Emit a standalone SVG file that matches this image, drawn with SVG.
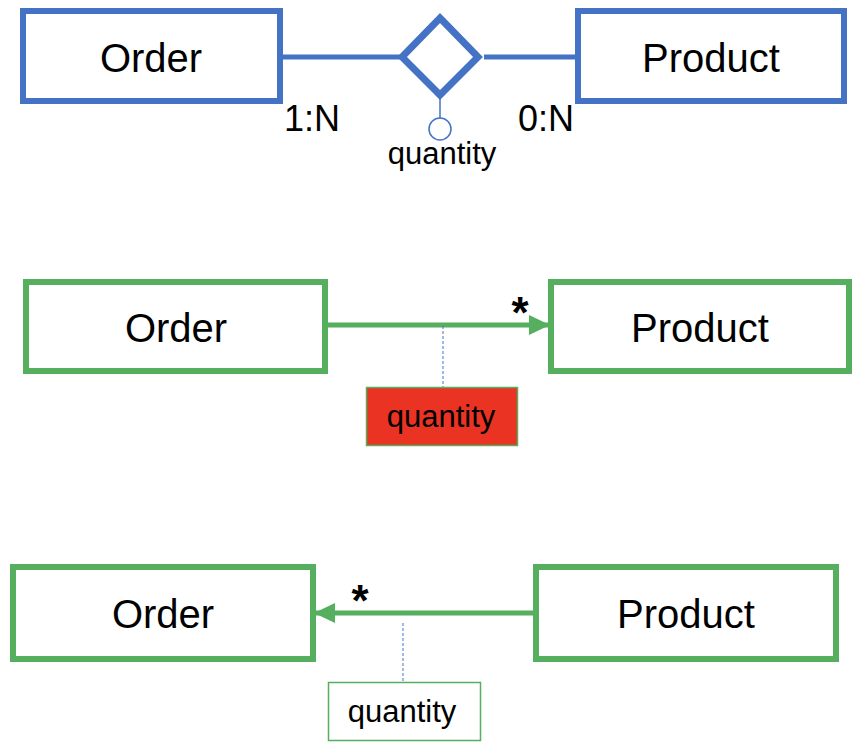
<svg xmlns="http://www.w3.org/2000/svg" width="862" height="752" viewBox="0 0 862 752">
<style>
  .lbl{font-family:"Liberation Sans",Arial,sans-serif;fill:#000;text-anchor:middle}
  .big{font-size:40px}
  .card{font-size:36px}
  .attr{font-size:31px}
  .star{font-size:44px;font-weight:bold}
  .er{fill:#fff;stroke:#4472C4;stroke-width:6}
  .uml{fill:#fff;stroke:#56AE5F;stroke-width:6}
  .erline{stroke:#4472C4;stroke-width:5;fill:none}
  .umlline{stroke:#56AE5F;stroke-width:5;fill:none}
  .dash{stroke:#4472C4;stroke-width:1;stroke-dasharray:3,2;fill:none}
</style>
<defs>
  <marker id="arr" viewBox="0 0 21 20" refX="21" refY="10" markerWidth="21" markerHeight="20" markerUnits="userSpaceOnUse" orient="auto">
    <path d="M0,0 L21,10 L0,20 Z" fill="#56AE5F"/>
  </marker>
</defs>
<rect width="862" height="752" fill="#fff"/>

<g id="connectors">
  <line class="erline" x1="283" y1="57" x2="400" y2="57"/>
  <line class="erline" x1="484" y1="57" x2="575" y2="57"/>
  <line x1="440" y1="99" x2="440" y2="118" stroke="#4472C4" stroke-width="1.5"/>
  <line class="umlline" x1="328" y1="325" x2="550" y2="325" marker-end="url(#arr)"/>
  <line class="dash" x1="443" y1="326" x2="443" y2="387"/>
  <line class="umlline" x1="533" y1="613" x2="314" y2="613" marker-end="url(#arr)"/>
  <line class="dash" x1="403" y1="623" x2="403" y2="682"/>
</g>

<g id="er-order">
  <rect class="er" x="23" y="11" width="257" height="90"/>
  <text class="lbl big" x="151" y="72">Order</text>
</g>
<g id="er-product">
  <rect class="er" x="578" y="11" width="266" height="90"/>
  <text class="lbl big" x="711" y="72">Product</text>
</g>
<g id="er-relationship">
  <polygon points="440,18 478,57 440,95 402,57" fill="#fff" stroke="#4472C4" stroke-width="7"/>
</g>
<g id="er-attribute">
  <circle cx="440" cy="129" r="11" fill="#fff" stroke="#4472C4" stroke-width="1.5"/>
  <text class="lbl attr" x="442" y="164">quantity</text>
</g>
<g id="er-cardinalities">
  <text class="lbl card" x="312" y="131">1:N</text>
  <text class="lbl card" x="546" y="131">0:N</text>
</g>

<g id="uml1-order">
  <rect class="uml" x="26" y="282" width="299" height="89"/>
  <text class="lbl big" x="176" y="342">Order</text>
</g>
<g id="uml1-product">
  <rect class="uml" x="551" y="282" width="298" height="89"/>
  <text class="lbl big" x="700" y="342">Product</text>
</g>
<g id="uml1-mult">
  <text class="lbl star" x="520" y="328">*</text>
</g>
<g id="uml1-quantity">
  <rect x="366.5" y="387.5" width="151" height="58" fill="#EA3323" stroke="#56AE5F" stroke-width="1.5"/>
  <text class="lbl attr" x="441" y="427">quantity</text>
</g>

<g id="uml2-order">
  <rect class="uml" x="13" y="567" width="300" height="92"/>
  <text class="lbl big" x="163" y="628">Order</text>
</g>
<g id="uml2-product">
  <rect class="uml" x="536" y="567" width="300" height="92"/>
  <text class="lbl big" x="686" y="628">Product</text>
</g>
<g id="uml2-mult">
  <text class="lbl star" x="360" y="616">*</text>
</g>
<g id="uml2-quantity">
  <rect x="328.5" y="682.5" width="152" height="58" fill="#fff" stroke="#56AE5F" stroke-width="1.5"/>
  <text class="lbl attr" x="402" y="722">quantity</text>
</g>
</svg>
